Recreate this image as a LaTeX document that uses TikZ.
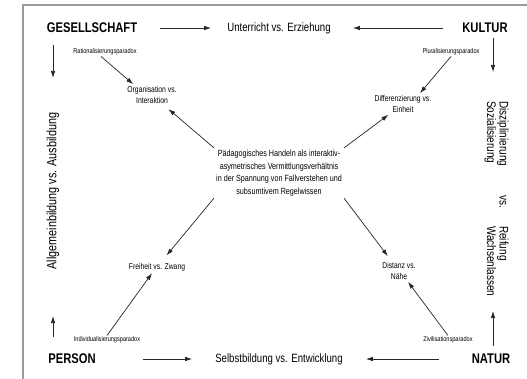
\documentclass[tikz,border=0pt]{standalone}
\usepackage{fontspec}
\setmainfont{Liberation Sans}[FakeStretch=0.8]
\usetikzlibrary{arrows.meta, positioning, calc}
\definecolor{scanline}{HTML}{9a9a9a}

\begin{document}
\begin{tikzpicture}[
  x=1pt, y=-1pt,
  every node/.style={inner sep=2pt},
  pol/.style={font=\fontsize{14}{16}\selectfont\bfseries},
  achse/.style={font=\fontsize{12}{14}\selectfont},
  seite/.style={font=\fontsize{12.5}{10.5}\selectfont, align=left, inner sep=0pt},
  spannung/.style={font=\fontsize{8.5}{11}\selectfont, align=center},
  paradox/.style={font=\fontsize{7}{8}\selectfont, inner sep=1pt},
  kern/.style={font=\fontsize{9}{12.5}\selectfont, align=center},
  pfeil/.style={-{Latex[length=7pt,width=4.5pt]}, line width=0.7pt, black!85}
]
\useasboundingbox (0,0) rectangle (527,379);
\draw[scanline, line width=1.2pt] (23,379) -- (23,5) -- (527,5);

\node[pol] (gesell) at (92,28) {GESELLSCHAFT};
\node[pol] (kultur) at (485,28) {KULTUR};
\node[pol] (person) at (72,359) {PERSON};
\node[pol] (natur) at (491,359) {NATUR};

\node[achse] (unter) at (279,28) {Unterricht vs. Erziehung};
\node[achse] (selbst) at (279,359) {Selbstbildung vs. Entwicklung};
\node[achse, font=\fontsize{13.5}{15}\selectfont, rotate=90] (allg) at (53,191) {Allgemeinbildung vs. Ausbildung};
\node[seite, rotate=-90, anchor=north west] (diszi) at (509,101) {Disziplinierung\\Sozialisierung};
\node[seite, rotate=-90] (vs) at (503,202) {vs.};
\node[seite, rotate=-90, anchor=north west] (reif) at (509,226) {Reifung\\Wachsenlassen};

\node[kern] (mid) at (279,173) {Pädagogisches Handeln als interaktiv-\\asymetrisches Vermittlungsverhältnis\\in der Spannung von Fallverstehen und\\subsumtivem Regelwissen};

\node[spannung] (orga) at (152,95) {Organisation vs.\\Interaktion};
\node[spannung] (diff) at (403,104) {Differenzierung vs.\\Einheit};
\node[spannung] (frei) at (157,267) {Freiheit vs. Zwang};
\node[spannung] (dist) at (399,271) {Distanz vs.\\Nähe};

\node[paradox] (ratio) at (105,52) {Rationalisierungsparadox};
\node[paradox] (plural) at (451,52) {Pluralisierungsparadox};
\node[paradox] (indiv) at (107,340) {Individualisierungsparadox};
\node[paradox] (zivil) at (448,340) {Zivilisationsparadox};

\coordinate (gd) at (53,78);
\coordinate (pu) at (53,316);
\coordinate (kd) at (493,72);
\coordinate (nu) at (493,311);

\draw[pfeil, shorten <=21pt, shorten >=14pt] (gesell.east) -- (unter.west);
\draw[pfeil, shorten <=17pt, shorten >=20pt] (kultur.west) -- (unter.east);
\draw[pfeil, shorten <=45pt, shorten >=21pt] (person.east) -- (selbst.west);
\draw[pfeil, shorten <=31pt, shorten >=21pt] (natur.west) -- (selbst.east);

\draw[pfeil, shorten <=10pt] (gesell.south -| gd) -- (gd);
\draw[pfeil, shorten <=15pt] (person.north -| pu) -- (pu);
\draw[pfeil, shorten <=3pt] (kultur.south -| kd) -- (kd);
\draw[pfeil, shorten <=6pt] (natur.north -| nu) -- (nu);

\draw[pfeil, shorten >=5pt] (mid.north west) -- (orga);
\draw[pfeil] (mid.north east) -- (diff);
\draw[pfeil, shorten >=7pt] (mid.south west) -- (frei);
\draw[pfeil, shorten >=5pt] (mid.south east) -- (dist);

\draw[pfeil] ($(ratio.south)+(-4,0)$) -- ($(orga.north west)+(8,0)$);
\draw[pfeil] (plural.south) -- ($(diff.north)+(17,0)$);
\draw[pfeil] (indiv.north) -- ($(frei.south)+(-5,0)$);
\draw[pfeil] (zivil.north) -- ($(dist.south)+(9,0)$);
\end{tikzpicture}
\end{document}
